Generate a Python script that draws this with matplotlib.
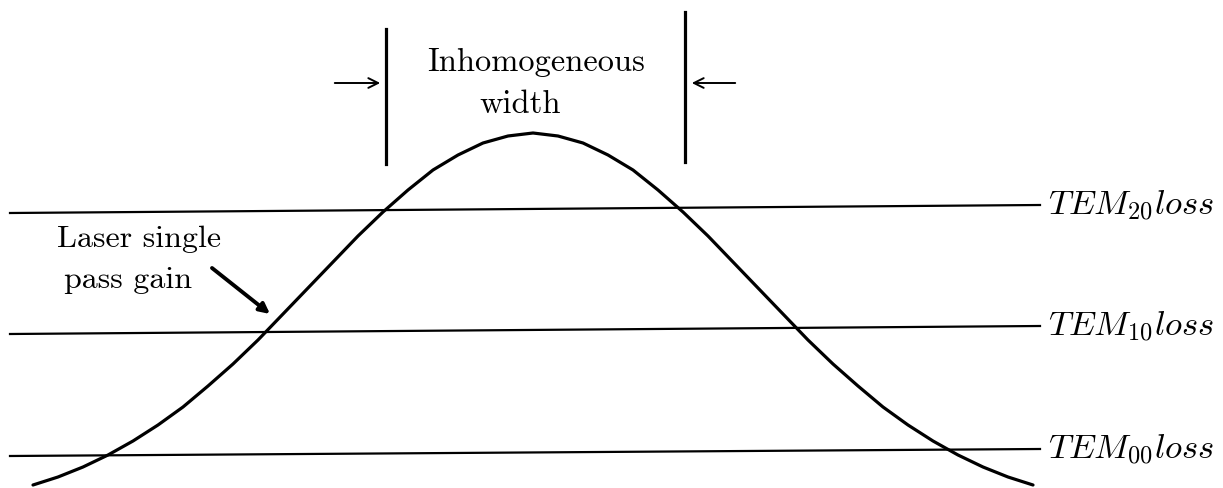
import matplotlib
matplotlib.use("Agg")
import matplotlib.pyplot as plt

plt.rcParams['mathtext.fontset'] = 'cm'
plt.rcParams['font.family'] = ['cmr10', 'DejaVu Serif']

# gain curve in pixel coordinates (y grows downward)
gain_x = list(range(33, 1034, 25))
gain_half = [134, 137, 144, 156, 171, 191, 213, 237, 263, 289, 315,
             341, 365, 387, 408, 426, 442, 456, 468, 478, 486]
gain_y = gain_half[::-1] + gain_half[1:]

# loss lines
loss_names = [r'$TEM_{20}loss$', r'$TEM_{10}loss$', r'$TEM_{00}loss$']
loss_left_y = [214, 335, 457]
loss_right_y = [206, 327, 450]
loss_x = [10, 1040]

# inhomogeneous width markers
bar_x = [386, 685]
bar_top = [30, 13]
bar_bottom = [165, 163]

fig = plt.figure(figsize=(12.23, 4.89), dpi=100)
ax = fig.add_axes([0, 0, 1, 1])
ax.set_xlim(0, 1223)
ax.set_ylim(489, 0)
ax.axis('off')

ax.plot(gain_x, gain_y, color='black', lw=2.3, solid_capstyle='round',
        solid_joinstyle='round')

for name, yl, yr in zip(loss_names, loss_left_y, loss_right_y):
    ax.plot(loss_x, [yl, yr], color='black', lw=1.6)
    ax.text(1048, yr, name, fontsize=25, ha='left', va='center')

for bx, bt, bb in zip(bar_x, bar_top, bar_bottom):
    ax.plot([bx, bx], [bt, bb], color='black', lw=2.3)

arrow_style = '->,head_length=0.7,head_width=0.35'
ax.annotate('', xy=(383, 84), xytext=(332, 84),
            arrowprops=dict(arrowstyle=arrow_style, lw=1.4, color='black'))
ax.annotate('', xy=(689, 84), xytext=(738, 84),
            arrowprops=dict(arrowstyle=arrow_style, lw=1.4, color='black'))

ax.text(536, 71, 'Inhomogeneous', fontsize=23.4, ha='center', va='baseline')
ax.text(520, 113, 'width', fontsize=23.4, ha='center', va='baseline')

ax.text(57, 247, 'Laser single', fontsize=23, ha='left', va='baseline')
ax.text(64, 288, 'pass gain', fontsize=23, ha='left', va='baseline')
ax.annotate('', xy=(270, 315), xytext=(212, 269),
            arrowprops=dict(arrowstyle='-|>,head_length=0.6,head_width=0.3',
                            lw=2.8, color='black', shrinkA=0, shrinkB=0))

fig.savefig('out.png', dpi=100)
